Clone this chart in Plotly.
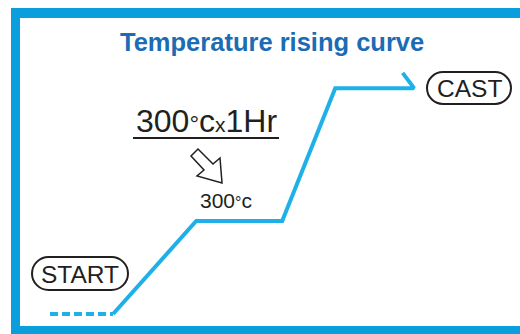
import plotly.graph_objects as go

# ---- data (time in minutes, temperature in °C) ----
preheat_time = [0, 44]
preheat_temp = [20, 20]
curve_time = [44, 102, 162, 199, 254, 246]
curve_temp = [20, 300, 300, 700, 700, 746]

title_text = "Temperature rising curve"
hold_label = "300<span style='font-size:24px'>°</span>c<span style='font-size:21px'>x</span>1Hr"
plateau_label = "300<span style='font-size:16px'>°</span>c"
start_label = "START"
cast_label = "CAST"

CURVE = "#1fb0e8"
FRAME = "#0a9fdc"
TITLE = "#1b6cb5"
INK = "#231f20"
FONT = "Liberation Sans, Arial, sans-serif"

fig = go.Figure()
fig.add_trace(go.Scatter(x=preheat_time, y=preheat_temp, mode="lines",
                         line=dict(color=CURVE, width=4, dash="8px,4px"),
                         hoverinfo="skip", showlegend=False))
fig.add_trace(go.Scatter(x=curve_time, y=curve_temp, mode="lines",
                         line=dict(color=CURVE, width=4),
                         hoverinfo="skip", showlegend=False))

# pixel-space overlay axes for decorations
shapes = [
    # frame (left, top, bottom bars)
    dict(type="rect", xref="x2", yref="y2", x0=11, x1=20, y0=8, y1=334, fillcolor=FRAME, line_width=0, layer="below"),
    dict(type="rect", xref="x2", yref="y2", x0=11, x1=520, y0=8, y1=18, fillcolor=FRAME, line_width=0, layer="below"),
    dict(type="rect", xref="x2", yref="y2", x0=11, x1=520, y0=326, y1=334, fillcolor=FRAME, line_width=0, layer="below"),
    # underline
    dict(type="line", xref="x2", yref="y2", x0=133, x1=279, y0=138, y1=138, line=dict(color=INK, width=2)),
    # hollow arrow
    dict(type="path", xref="x2", yref="y2",
         path="M 191 156 L 198 149 L 213 164 L 220 158 L 222 183 L 197 176 L 204 170 Z",
         fillcolor="white", line=dict(color=INK, width=1.5)),
]


def pill(x0, x1, y0, y1):
    r = (y1 - y0) / 2
    k = 0.5523 * r
    ym = (y0 + y1) / 2
    p = (f"M {x0 + r} {y0} L {x1 - r} {y0} "
         f"C {x1 - r + k} {y0} {x1} {ym - k} {x1} {ym} "
         f"C {x1} {ym + k} {x1 - r + k} {y1} {x1 - r} {y1} "
         f"L {x0 + r} {y1} "
         f"C {x0 + r - k} {y1} {x0} {ym + k} {x0} {ym} "
         f"C {x0} {ym - k} {x0 + r - k} {y0} {x0 + r} {y0} Z")
    return dict(type="path", xref="x2", yref="y2", path=p,
                fillcolor="white", line=dict(color=INK, width=2))


shapes.append(pill(427, 511, 72, 104))
shapes.append(pill(32, 128, 257, 290))

annotations = [
    dict(text=f"<b>{title_text}</b>", x=272, y=42, xref="x2", yref="y2", showarrow=False,
         font=dict(family=FONT, size=25.5, color=TITLE), xanchor="center", yanchor="middle"),
    dict(text=hold_label, x=206, y=121, xref="x2", yref="y2", showarrow=False,
         font=dict(family=FONT, size=32, color=INK), xanchor="center", yanchor="middle"),
    dict(text=plateau_label, x=226, y=200, xref="x2", yref="y2", showarrow=False,
         font=dict(family=FONT, size=21, color=INK), xanchor="center", yanchor="middle"),
    dict(text=cast_label, x=469, y=88, xref="x2", yref="y2", showarrow=False,
         font=dict(family=FONT, size=24.5, color=INK), xanchor="center", yanchor="middle"),
    dict(text=start_label, x=80, y=274, xref="x2", yref="y2", showarrow=False,
         font=dict(family=FONT, size=24.5, color=INK), xanchor="center", yanchor="middle"),
]

fig.update_layout(
    width=520, height=334,
    margin=dict(l=0, r=0, t=0, b=0, pad=0),
    paper_bgcolor="white", plot_bgcolor="rgba(0,0,0,0)",
    xaxis=dict(range=[-34.88, 327.9], visible=False, fixedrange=True),
    yaxis=dict(range=[-40.2, 965.4], visible=False, fixedrange=True),
    xaxis2=dict(range=[0, 520], visible=False, overlaying="x", fixedrange=True),
    yaxis2=dict(range=[334, 0], visible=False, overlaying="y", fixedrange=True),
    shapes=shapes,
    annotations=annotations,
)

fig.write_html("out.html", config={"displayModeBar": False},
               post_script="document.body.style.margin='0';document.body.style.overflow='hidden';")
